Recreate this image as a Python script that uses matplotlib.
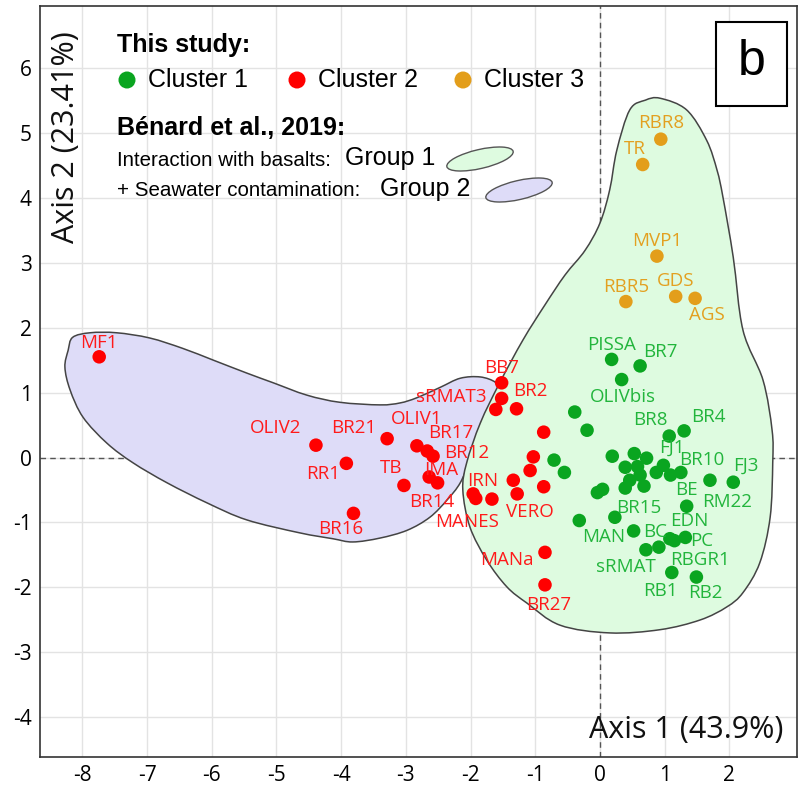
import numpy as np
import matplotlib.pyplot as plt
from matplotlib.patches import PathPatch, Ellipse, Rectangle
from matplotlib.path import Path

plt.rcParams['axes.unicode_minus'] = False

# PCA scores, cluster 1 (labels left empty where no name is drawn)
c1_names = ['PISSA', 'BR7', 'OLIVbis', '', '', 'BR8', 'BR4', '', '', '', '', '', '', '', '',
            '', '', '', '', '', '', 'FJ1', '', 'BR10', 'RM22', 'FJ3', 'BE', 'BR15', 'MAN',
            'BC', 'EDN', 'RBGR1', 'PC', 'sRMAT', '', 'RB1', 'RB2']
c1_x = [0.18, 0.62, 0.335, -0.39, -0.20, 1.07, 1.30, -0.71, -0.55, 0.19, 0.53, 0.72, 0.39, 0.58, 0.62,
        0.46, 0.39, 0.68, 0.04, -0.04, 0.87, 0.98, 1.09, 1.25, 1.70, 2.06, 1.34, 0.23, -0.32,
        0.52, 1.08, 1.15, 1.32, 0.71, 0.91, 1.11, 1.49]
c1_y = [1.51, 1.41, 1.20, 0.70, 0.42, 0.33, 0.41, -0.04, -0.23, 0.02, 0.06, -0.01, -0.15, -0.14, -0.27,
        -0.35, -0.47, -0.44, -0.49, -0.54, -0.23, -0.12, -0.27, -0.23, -0.35, -0.38, -0.75, -0.92, -0.97,
        -1.13, -1.25, -1.28, -1.23, -1.42, -1.38, -1.77, -1.84]

# cluster 2
c2_names = ['MF1', 'OLIV2', 'BR21', 'RR1', 'BR16', 'TB', 'OLIV1', 'BR17', 'BR12', 'IMA', 'BR14',
            'BB7', 'sRMAT3', '', 'BR2', '', '', '', '', 'IRN', 'VERO', '', 'MANES', '', 'MANa', 'BR27']
c2_x = [-7.74, -4.39, -3.29, -3.92, -3.81, -3.03, -2.83, -2.67, -2.58, -2.64, -2.51,
        -1.52, -1.52, -1.61, -1.29, -0.87, -1.03, -1.08, -0.87, -1.34, -1.28, -1.96, -1.92, -1.67, -0.85, -0.85]
c2_y = [1.55, 0.19, 0.29, -0.09, -0.86, -0.43, 0.18, 0.10, 0.02, -0.30, -0.39,
        1.15, 0.91, 0.74, 0.75, 0.39, 0.01, -0.20, -0.45, -0.35, -0.56, -0.56, -0.63, -0.64, -1.46, -1.96]

# cluster 3
c3_names = ['RBR8', 'TR', 'MVP1', 'RBR5', 'GDS', 'AGS']
c3_x = [0.94, 0.66, 0.88, 0.40, 1.17, 1.47]
c3_y = [4.90, 4.51, 3.10, 2.40, 2.48, 2.45]

# outlines of the two groups of Bénard et al. (2019)
group1_x = [0.93, 1.34, 1.65, 1.81, 1.90, 2.06, 2.21, 2.52, 2.66, 2.67, 2.63, 2.47, 2.21, 1.96, 1.55,
            0.93, 0.15, -0.62, -1.13, -1.44, -1.75, -2.01, -2.12, -2.06, -1.85, -1.55, -1.19, -0.85,
            -0.54, -0.23, 0.00, 0.15, 0.26, 0.46, 0.70]
group1_y = [5.53, 5.35, 4.88, 4.42, 4.01, 3.08, 1.96, 1.19, 0.42, -0.08, -0.92, -1.62, -2.08, -2.30, -2.50,
            -2.65, -2.70, -2.58, -2.24, -1.99, -1.58, -1.07, -0.50, -0.08, 0.53, 1.15, 1.81, 2.35,
            2.81, 3.19, 3.61, 4.12, 4.73, 5.35, 5.50]
group2_x = [-8.27, -8.22, -8.15, -7.88, -7.47, -6.96, -6.45, -5.98, -5.46, -5.05, -4.53, -4.02, -3.40,
            -3.09, -2.83, -2.47, -2.16, -1.85, -1.62, -1.58, -1.65, -1.81, -2.01, -2.16, -2.36, -2.63,
            -2.98, -3.40, -3.82, -4.13, -4.64, -5.46, -6.07, -6.69, -7.22, -7.62, -7.99, -8.19]
group2_y = [1.39, 1.65, 1.85, 1.92, 1.92, 1.84, 1.68, 1.50, 1.30, 1.15, 0.96, 0.85, 0.81,
            0.84, 0.92, 1.08, 1.22, 1.24, 1.16, 1.04, 0.78, 0.42, -0.04, -0.39, -0.65, -0.92,
            -1.12, -1.24, -1.30, -1.25, -1.16, -0.96, -0.70, -0.39, -0.08, 0.22, 0.62, 1.04]

# label offsets (pixels) from each named point
offsets = {
    'PISSA': (0, 14), 'BR7': (20, 14), 'OLIVbis': (1, -17), 'BR8': (-19, 16), 'BR4': (24, 14),
    'FJ1': (8, 18), 'BR10': (21, 12), 'FJ3': (13, 16), 'BE': (0, 16), 'RM22': (17, -22),
    'BR15': (24, 9), 'MAN': (24, -16), 'BC': (21, -1), 'EDN': (19, 18), 'PC': (16, -4),
    'sRMAT': (-20, -17), 'RBGR1': (26, -19), 'RB1': (-11, -19), 'RB2': (9, -16),
    'MF1': (0, 14), 'OLIV2': (-40, 17), 'BR21': (-33, 11), 'OLIV1': (0, 27), 'BR17': (24, 18),
    'BR12': (34, 3), 'RR1': (-23, -11), 'TB': (-13, 17), 'IMA': (12, 7), 'BR14': (-6, -19),
    'BR16': (-13, -16), 'BB7': (0, 15), 'sRMAT3': (-50, 1), 'BR2': (14, 18), 'IRN': (-31, -1),
    'VERO': (13, -18), 'MANES': (-9, -24), 'MANa': (-38, -8), 'BR27': (4, -20),
    'RBR8': (0, 16), 'TR': (-8, 16), 'MVP1': (0, 15), 'RBR5': (0, 15), 'GDS': (0, 15), 'AGS': (12, -17),
}

GREEN, RED, ORANGE = '#0aa520', '#ff0000', '#e39e1b'
GREEN_TXT, RED_TXT, ORANGE_TXT = '#22b53c', '#ff1a1a', '#e3a020'
FILL1, FILL2 = '#defbe0', '#dedcf8'


def smooth_outline(xs, ys):
    # closed Catmull-Rom curve through the outline vertices, as cubic Bezier segments
    p = np.column_stack([xs, ys])
    n = len(p)
    verts = [p[0]]
    codes = [Path.MOVETO]
    for i in range(n):
        p0, p1, p2, p3 = p[i - 1], p[i], p[(i + 1) % n], p[(i + 2) % n]
        verts += [p1 + (p2 - p0) / 6, p2 - (p3 - p1) / 6, p2]
        codes += [Path.CURVE4] * 3
    return Path(verts, codes)


fig = plt.figure(figsize=(7.99, 7.87), dpi=100)
ax = fig.add_axes([40 / 799, 1 - 757 / 787, 757 / 799, 751 / 787])

ax.set_xlim(-8.655, 3.045)
ax.set_ylim(-4.61, 6.95)
ax.set_xticks(range(-8, 3))
ax.set_yticks(range(-4, 7))
ax.grid(True, color='#e3e3e3', lw=1, zorder=0)
ax.set_axisbelow(True)
ax.tick_params(length=0, labelsize=15, pad=6)
for lab in ax.get_xticklabels() + ax.get_yticklabels():
    lab.set_fontfamily('Open Sans')
for s in ax.spines.values():
    s.set_color('#333333')
    s.set_linewidth(1.2)

ax.axhline(0, color='#555555', ls=(0, (4, 3)), lw=1, zorder=1)
ax.axvline(0, color='#555555', ls=(0, (4, 3)), lw=1, zorder=1)

ax.add_patch(PathPatch(smooth_outline(group2_x, group2_y),
                       facecolor=FILL2, edgecolor='#444444', lw=1.1, zorder=2))
ax.add_patch(PathPatch(smooth_outline(group1_x, group1_y),
                       facecolor=FILL1, edgecolor='#444444', lw=1.1, zorder=2))

for names, xs, ys, col, tcol in [(c1_names, c1_x, c1_y, GREEN, GREEN_TXT),
                                 (c2_names, c2_x, c2_y, RED, RED_TXT),
                                 (c3_names, c3_x, c3_y, ORANGE, ORANGE_TXT)]:
    ax.scatter(xs, ys, s=95, color=col, edgecolors='none', zorder=3)
    for n, x, y in zip(names, xs, ys):
        if not n:
            continue
        dx, dy = offsets[n]
        ax.annotate(n, (x, y), xytext=(dx, dy), textcoords='offset pixels',
                    ha='center', va='center', color=tcol, fontsize=13.5,
                    family='Open Sans', zorder=4)

fig.text(66 / 799, 1 - 137 / 787, 'Axis 2 (23.41%)', rotation=90, ha='center', va='center',
         fontsize=22, family='Open Sans', color='#111111')
fig.text(783 / 799, 1 - 730 / 787, 'Axis 1 (43.9%)', ha='right', va='center',
         fontsize=22, family='Open Sans', color='#111111')

# legend and panel tag, drawn in pixel space
ov = fig.add_axes([0, 0, 1, 1])
ov.set_xlim(0, 799)
ov.set_ylim(787, 0)
ov.axis('off')

lf = 'Liberation Sans'
ov.text(117, 45, 'This study:', fontsize=18, fontweight='bold', family=lf, va='center')
for cx, col, txt in [(127, GREEN, 'Cluster 1'), (297, RED, 'Cluster 2'), (463, ORANGE, 'Cluster 3')]:
    ov.scatter([cx], [80], s=150, color=col, edgecolors='none')
    ov.text(cx + 21, 80, txt, fontsize=18, family=lf, va='center')
ov.text(117, 128, 'Bénard et al., 2019:', fontsize=18, fontweight='bold', family=lf, va='center')
ov.text(117, 160, 'Interaction with basalts:', fontsize=14.8, family=lf, va='center')
ov.text(345, 158, 'Group 1', fontsize=18, family=lf, va='center')
ov.text(117, 191, '+ Seawater contamination:', fontsize=14.8, family=lf, va='center')
ov.text(380, 189, 'Group 2', fontsize=18, family=lf, va='center')
ov.add_patch(Ellipse((480, 159), 68, 19, angle=-13, facecolor=FILL1, edgecolor='#555555', lw=1))
ov.add_patch(Ellipse((519, 190), 68, 19, angle=-13, facecolor=FILL2, edgecolor='#555555', lw=1))

ov.add_patch(Rectangle((716, 22), 71, 84, facecolor='white', edgecolor='black', lw=1.5))
ov.text(751.5, 62, 'b', fontsize=36, family=lf, ha='center', va='center')

fig.savefig('out.png', dpi=100)
